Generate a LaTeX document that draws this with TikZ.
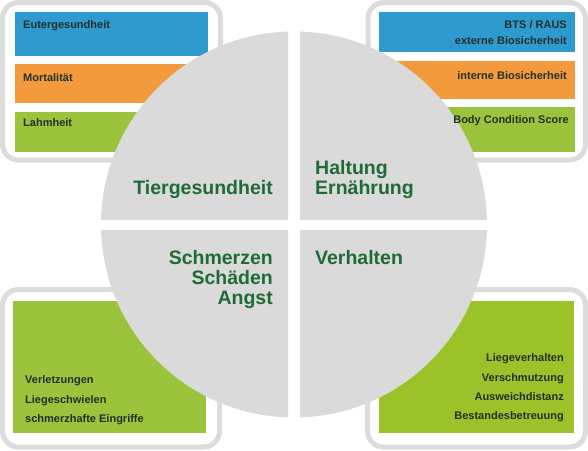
\documentclass[tikz,border=0pt]{standalone}
\usepackage{fontspec}
\setmainfont{Liberation Sans}
\definecolor{cblue}{HTML}{2E9ACD}
\definecolor{corange}{HTML}{F39B3C}
\definecolor{cgreen}{HTML}{9BC33C}
\definecolor{cgreenb}{HTML}{9CC22A}
\definecolor{cgray}{HTML}{DADADA}
\definecolor{cframe}{HTML}{DCDCDC}
\definecolor{ctext}{HTML}{22302A}
\definecolor{cbig}{HTML}{1F6B35}
\begin{document}
\begin{tikzpicture}[x=1pt,y=-1pt,
  frame/.style={draw=cframe,line width=5pt,rounded corners=16pt,fill=white},
  small/.style={font=\bfseries\fontsize{11}{13}\selectfont,text=ctext,inner sep=0pt},
  big/.style={font=\bfseries\fontsize{19.5}{20}\selectfont,text=cbig,inner sep=0pt}]
\useasboundingbox (0,0) rectangle (588,450);
\fill[white] (0,0) rectangle (588,450);
% frames
\draw[frame] (2.5,2.5) rectangle (220.5,160);
\draw[frame] (368,2.5) rectangle (585.5,160);
\draw[frame] (2.5,289.5) rectangle (219.5,447);
\draw[frame] (367.5,289.5) rectangle (585.5,447);
% inner boxes
\fill[cblue] (15,12) rectangle (208,56);
\fill[corange] (15,64) rectangle (208,103);
\fill[cgreen] (15,112) rectangle (208,152);
\fill[cblue] (379,12) rectangle (575,52);
\fill[corange] (379,61) rectangle (575,99);
\fill[cgreen] (379,107) rectangle (575,152);
\fill[cgreen] (13,301) rectangle (206,433);
\fill[cgreenb] (379,301) rectangle (574,433);
% circle quadrants
\coordinate (c) at (294,224.5);
\begin{scope}\clip (0,0) rectangle (288,219);\fill[cgray] (c) circle[radius=193];\end{scope}
\begin{scope}\clip (300,0) rectangle (588,219);\fill[cgray] (c) circle[radius=193];\end{scope}
\begin{scope}\clip (0,230) rectangle (288,450);\fill[cgray] (c) circle[radius=193];\end{scope}
\begin{scope}\clip (300,230) rectangle (588,450);\fill[cgray] (c) circle[radius=193];\end{scope}
% small texts
\node[small,anchor=base west] (t1) at (23,28) {Eutergesundheit};
\node[small,anchor=base west] (t2) at (23,81) {Mortalität};
\node[small,anchor=base west] (t3) at (23,126) {Lahmheit};
\node[small,anchor=base east] (r1) at (567,28) {BTS / RAUS};
\node[small,anchor=base east] (r2) at (567,44) {externe Biosicherheit};
\node[small,anchor=base east] (r3) at (567,79) {interne Biosicherheit};
\node[small,anchor=base east] (r4) at (569,123) {Body Condition Score};
\node[small,anchor=base west] (b1) at (25,383) {Verletzungen};
\node[small,anchor=base west] (b2) at (25,403) {Liegeschwielen};
\node[small,anchor=base west] (b3) at (25,422) {schmerzhafte Eingriffe};
\node[small,anchor=base east] (d1) at (564,361) {Liegeverhalten};
\node[small,anchor=base east] (d2) at (564,381) {Verschmutzung};
\node[small,anchor=base east] (d3) at (564,400) {Ausweichdistanz};
\node[small,anchor=base east] (d4) at (564,419) {Bestandesbetreuung};
% big texts
\node[big,anchor=base east] (q1) at (273,194) {Tiergesundheit};
\node[big,anchor=base west] (q2a) at (315,174) {Haltung};
\node[big,anchor=base west] (q2b) at (315,194) {Ernährung};
\node[big,anchor=base east] (q3a) at (273,264) {Schmerzen};
\node[big,anchor=base east] (q3b) at (273,284) {Schäden};
\node[big,anchor=base east] (q3c) at (273,304) {Angst};
\node[big,anchor=base west] (q4) at (315,264) {Verhalten};
\end{tikzpicture}
\end{document}
